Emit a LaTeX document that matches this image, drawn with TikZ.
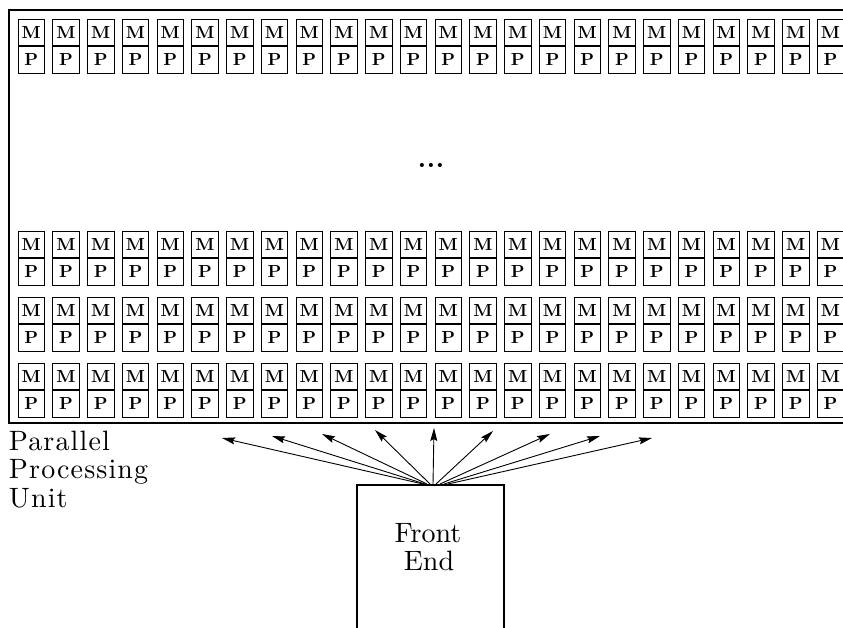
\documentclass[tikz,border=0pt]{standalone}
\usepackage{fontspec}
\setmainfont{lmroman10-regular}[Extension=.otf, BoldFont=lmroman10-bold]
\usetikzlibrary{arrows.meta}
\tikzset{
  cellbox/.style={draw, line width=1pt, minimum width=26.5pt, minimum height=27pt,
    inner sep=0pt, outer sep=0pt, font=\bfseries\fontsize{17.5}{17.5}\selectfont},
  bigtext/.style={inner sep=0pt, outer sep=0pt, font=\fontsize{28}{28}\selectfont},
  spaced/.style={inner sep=0pt, outer sep=0pt, font=\fontsize{28}{28}\selectfont\addfontfeature{LetterSpace=4}},
  fan/.style={line width=0.9pt, -{Stealth[length=13pt, width=7pt, inset=2pt]}},
}
\begin{document}
\begin{tikzpicture}[x=1pt, y=-1pt]
\useasboundingbox (0,0) rectangle (843,627);
\clip (0,0) rectangle (843,627);
% outer frame (right side runs off the page)
\node[draw, line width=2pt, minimum width=860pt, minimum height=413pt,
      anchor=north west, inner sep=0pt, outer sep=0pt] (ppu) at (9,10) {};
% processor cells
\foreach \r/\y in {0/19,1/231,2/297,3/363}{
  \foreach \c in {0,...,23}{
    \node[cellbox, anchor=north west] (m-\r-\c) at ({18+34.75*\c},\y) {M};
    \node[cellbox, anchor=north] (p-\r-\c) at (m-\r-\c.south) {P};
    \draw[line width=1.8pt] (m-\r-\c.south west) -- (m-\r-\c.south east);
  }
}
% dots
\node[anchor=base, inner sep=0pt, font=\bfseries\fontsize{26}{26}\selectfont] (dots) at (431,167) {.\kern0.7pt.\kern0.7pt.};
% label
\node[spaced, anchor=base west] (ppu1) at (9,450) {Parallel};
\node[spaced, anchor=base west] (ppu2) at (9,478) {Processing};
\node[spaced, anchor=base west] (ppu3) at (9,507) {Unit};
% front end
\node[draw, line width=1.6pt, minimum width=147pt, minimum height=200pt,
      anchor=north, inner sep=0pt, outer sep=0pt] (fe) at (430.5,485) {};
\node[bigtext, anchor=base] (fe1) at (428,542) {Front};
\node[bigtext, anchor=base] (fe2) at (429,570) {End};
% arrows
\foreach \i/\sx/\tx/\ty in {1/423/222/438, 2/425/272/436, 3/427/322/434, 4/430/375/430,
  5/433/434/428, 6/436/493/431, 7/440/550/434, 8/444/600/436, 9/448/652/438}{
  \coordinate (s\i) at (\sx,484);
  \coordinate (t\i) at (\tx,\ty);
  \draw[fan] (s\i) -- (t\i);
}
\end{tikzpicture}
\end{document}
